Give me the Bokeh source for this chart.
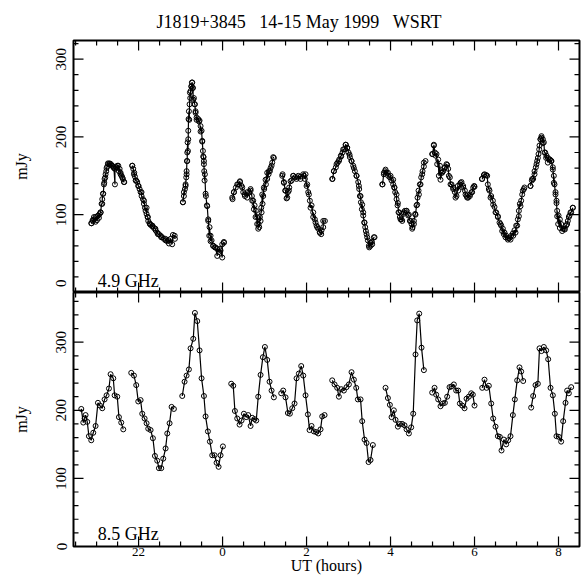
import math
from bokeh.plotting import figure
from bokeh.models import Range1d, LinearAxis, FixedTicker, Label, Title
from bokeh.layouts import column
from bokeh.embed import file_html
from bokeh.resources import INLINE

# ---------------- data ----------------
NB = "\u00a0"
title_text = "J1819+3845" + NB * 3 + "14-15" + NB + "May" + NB + "1999" + NB * 3 + "WSRT"
x_tick_values = [-2, 0, 2, 4, 6, 8]          # hours relative to 0h UT on 15 May
x_tick_labels = ["22", "0", "2", "4", "6", "8"]
y_tick_values = [0, 100, 200, 300]
panel_labels = ["4.9 GHz", "8.5 GHz"]

# 4.9 GHz : UT (hours rel. 0h) and flux (mJy), one list per scan block (first reading)
top_t = [
    [-3.127, -3.095, -3.063, -3.024, -2.984, -2.944, -2.905, -2.865, -2.841, -2.817, -2.794, -2.762,
     -2.730, -2.683, -2.635, -2.587, -2.563, -2.540, -2.508, -2.468, -2.429, -2.389, -2.349],
    [-2.15, -2.11, -2.07, -2.00, -1.93, -1.87, -1.81, -1.78, -1.73, -1.67, -1.60, -1.54, -1.46,
     -1.36, -1.28, -1.20, -1.14],
    [-0.944, -0.921, -0.881, -0.857, -0.841, -0.825, -0.817, -0.794, -0.778, -0.746, -0.730, -0.714,
     -0.698, -0.667, -0.643, -0.619, -0.563, -0.524, -0.484, -0.460, -0.444, -0.421, -0.397, -0.365,
     -0.341, -0.317, -0.286, -0.222, -0.167, -0.127, -0.063, -0.008, 0.032],
    [0.230, 0.270, 0.349, 0.413, 0.468, 0.524, 0.587, 0.667, 0.706, 0.746, 0.786, 0.825, 0.849,
     0.889, 0.921, 0.944, 0.984, 1.024, 1.063, 1.103, 1.143, 1.183, 1.222],
    [1.421, 1.460, 1.500, 1.540, 1.579, 1.619, 1.683, 1.778, 1.857, 1.937, 1.976, 2.016, 2.056,
     2.095, 2.159, 2.214, 2.254, 2.317, 2.349, 2.397, 2.437],
    [2.611, 2.651, 2.714, 2.770, 2.825, 2.873, 2.929, 2.968, 3.024, 3.071, 3.127, 3.190, 3.246,
     3.286, 3.325, 3.349, 3.381, 3.413, 3.444, 3.484, 3.524, 3.563, 3.619],
    [3.802, 3.841, 3.881, 3.937, 4.000, 4.063, 4.095, 4.143, 4.175, 4.206, 4.238, 4.278, 4.317,
     4.381, 4.437, 4.476, 4.516, 4.556, 4.595, 4.635, 4.675, 4.714, 4.754, 4.794, 4.833],
    [4.992, 5.032, 5.071, 5.111, 5.151, 5.190, 5.230, 5.286, 5.349, 5.389, 5.429, 5.492, 5.548,
     5.603, 5.667, 5.730, 5.786, 5.825, 5.889, 5.944, 6.000],
    [6.183, 6.238, 6.302, 6.341, 6.381, 6.444, 6.500, 6.556, 6.619, 6.659, 6.698, 6.738, 6.794,
     6.857, 6.921, 6.976, 7.016, 7.056, 7.095, 7.135, 7.175],
    [7.333, 7.373, 7.429, 7.476, 7.508, 7.540, 7.571, 7.595, 7.627, 7.667, 7.706, 7.746, 7.794,
     7.833, 7.865, 7.889, 7.929, 7.952, 7.968, 7.992, 8.032, 8.087, 8.151, 8.206, 8.246, 8.286, 8.341],
]
top_v = [
    [89, 93, 97, 91, 98, 96, 103, 114, 127, 141, 148, 160, 166, 165, 163, 160, 139, 161, 163, 156,
     152, 148, 142],
    [163, 152, 144, 137, 129, 118, 109, 97, 88, 86, 82, 75, 71, 69, 67, 62, 73],
    [116, 129, 137, 152, 169, 182, 197, 222, 257, 265, 270, 263, 248, 242, 231, 222, 220, 207, 194,
     175, 169, 152, 124, 111, 92, 73, 66, 60, 58, 47, 56, 45, 64],
    [122, 129, 139, 143, 135, 126, 129, 133, 118, 107, 97, 88, 82, 97, 109, 126, 135, 145, 154, 156,
     160, 167, 173],
    [150, 141, 131, 122, 131, 143, 150, 148, 146, 150, 152, 139, 126, 109, 97, 90, 84, 77, 75, 84, 92],
    [146, 156, 165, 169, 175, 184, 190, 186, 177, 169, 160, 150, 137, 124, 113, 103, 90, 79, 71, 60,
     64, 62, 71],
    [139, 154, 158, 154, 150, 145, 135, 126, 115, 103, 94, 92, 103, 105, 100, 92, 82, 88, 100, 113,
     126, 139, 152, 162, 169],
    [178, 189, 176, 165, 150, 145, 154, 160, 164, 150, 139, 133, 122, 137, 141, 135, 126, 122, 126,
     129, 136],
    [146, 152, 150, 133, 122, 113, 103, 98, 88, 79, 75, 71, 68, 68, 73, 77, 86, 98, 111, 126, 133],
    [137, 146, 156, 165, 173, 184, 197, 199, 192, 180, 173, 167, 171, 169, 158, 141, 126, 115, 98,
     88, 83, 79, 81, 88, 97, 103, 109],
]

# 4.9 GHz, second (finer) reading of the same scan blocks
top_t2 = [
    [-3.119, -3.087, -3.056, -3.024, -2.992, -2.960, -2.929, -2.905, -2.881, -2.865, -2.849, -2.825,
     -2.810, -2.786, -2.770, -2.746, -2.722, -2.690, -2.659, -2.627, -2.595, -2.563, -2.516, -2.484,
     -2.452, -2.429, -2.405, -2.373, -2.341],
    [-2.151, -2.127, -2.103, -2.087, -2.056, -2.032, -2.008, -1.976, -1.952, -1.929, -1.897, -1.873,
     -1.849, -1.833, -1.810, -1.786, -1.770, -1.738, -1.714, -1.675, -1.635, -1.595, -1.556, -1.516,
     -1.476, -1.437, -1.397, -1.357, -1.317, -1.278, -1.238, -1.183, -1.135],
    [-0.944, -0.921, -0.897, -0.881, -0.865, -0.857, -0.849, -0.841, -0.833, -0.817, -0.810, -0.802,
     -0.786, -0.770, -0.762, -0.738, -0.722, -0.706, -0.683, -0.659, -0.643, -0.619, -0.579, -0.548,
     -0.524, -0.500, -0.484, -0.468, -0.452, -0.444, -0.437, -0.429, -0.405, -0.373, -0.341, -0.310,
     -0.286, -0.262, -0.222, -0.183, -0.127, -0.087, -0.048, -0.008, 0.032],
    [0.238, 0.270, 0.317, 0.373, 0.413, 0.452, 0.492, 0.532, 0.587, 0.635, 0.667, 0.698, 0.730,
     0.762, 0.794, 0.825, 0.857, 0.873, 0.905, 0.929, 0.952, 0.968, 0.992, 1.032, 1.063, 1.095,
     1.127, 1.167, 1.206],
    [1.429, 1.460, 1.492, 1.524, 1.556, 1.587, 1.643, 1.683, 1.722, 1.762, 1.802, 1.857, 1.921,
     1.960, 2.000, 2.040, 2.079, 2.119, 2.159, 2.198, 2.238, 2.278, 2.317, 2.357, 2.397],
    [2.619, 2.651, 2.698, 2.738, 2.778, 2.817, 2.857, 2.897, 2.937, 2.968, 3.000, 3.032, 3.071,
     3.111, 3.151, 3.190, 3.230, 3.254, 3.270, 3.294, 3.317, 3.349, 3.373, 3.397, 3.429, 3.460,
     3.492, 3.524, 3.556, 3.603],
    [3.810, 3.841, 3.873, 3.905, 3.944, 3.984, 4.024, 4.063, 4.087, 4.111, 4.143, 4.167, 4.190,
     4.222, 4.262, 4.302, 4.341, 4.381, 4.421, 4.460, 4.500, 4.524, 4.556, 4.587, 4.619, 4.643,
     4.667, 4.698, 4.730, 4.762, 4.794],
    [5.000, 5.032, 5.056, 5.095, 5.135, 5.175, 5.214, 5.254, 5.294, 5.333, 5.373, 5.413, 5.452,
     5.492, 5.532, 5.571, 5.611, 5.651, 5.690, 5.730, 5.770, 5.810, 5.849, 5.889, 5.929, 5.968, 5.992],
    [6.175, 6.222, 6.278, 6.317, 6.357, 6.397, 6.437, 6.476, 6.516, 6.556, 6.595, 6.635, 6.675,
     6.714, 6.754, 6.794, 6.833, 6.873, 6.913, 6.952, 6.992, 7.032, 7.056, 7.079, 7.111, 7.151, 7.190],
    [7.333, 7.365, 7.397, 7.429, 7.460, 7.492, 7.524, 7.548, 7.571, 7.595, 7.627, 7.651, 7.683,
     7.714, 7.746, 7.786, 7.825, 7.865, 7.889, 7.905, 7.929, 7.952, 7.968, 8.000, 8.032, 8.063,
     8.103, 8.143, 8.183, 8.222, 8.262, 8.302, 8.341],
]
top_v2 = [
    [89, 92, 94, 97, 93, 99, 101, 103, 114, 120, 127, 139, 146, 152, 156, 162, 165, 166, 165, 163,
     161, 159, 161, 163, 159, 154, 150, 146, 142],
    [163, 159, 154, 149, 144, 142, 137, 133, 129, 124, 120, 114, 109, 105, 101, 97, 92, 89, 87, 85,
     83, 80, 77, 75, 73, 71, 69, 67, 66, 63, 69, 74, 69],
    [116, 124, 133, 139, 148, 156, 169, 180, 193, 208, 223, 233, 242, 250, 259, 265, 270, 263, 250,
     242, 233, 225, 223, 221, 214, 208, 195, 182, 174, 165, 156, 144, 127, 112, 94, 84, 73, 67, 60,
     58, 56, 52, 54, 62, 65],
    [120, 129, 135, 139, 142, 137, 129, 124, 122, 129, 131, 124, 118, 112, 105, 97, 88, 84, 92, 103,
     114, 124, 133, 139, 146, 152, 156, 163, 174],
    [152, 142, 131, 121, 129, 135, 144, 150, 148, 146, 150, 149, 152, 146, 137, 129, 118, 112, 103,
     94, 86, 82, 77, 80, 92],
    [146, 156, 161, 167, 171, 176, 180, 184, 190, 186, 180, 174, 169, 163, 156, 150, 142, 133, 124,
     116, 107, 99, 90, 84, 75, 67, 58, 60, 65, 71],
    [139, 152, 156, 154, 150, 148, 144, 139, 135, 129, 120, 112, 103, 97, 94, 101, 105, 105, 99, 92,
     88, 84, 92, 101, 112, 122, 131, 139, 148, 156, 167],
    [178, 190, 180, 178, 171, 163, 154, 156, 161, 165, 159, 148, 139, 135, 129, 124, 131, 139, 142,
     137, 131, 124, 122, 124, 129, 135, 137],
    [146, 151, 151, 139, 131, 124, 118, 110, 103, 97, 90, 86, 82, 77, 73, 70, 70, 73, 76, 80, 86, 94,
     105, 114, 118, 131, 135],
    [137, 144, 146, 152, 161, 169, 178, 189, 197, 201, 197, 193, 180, 176, 173, 171, 169, 161, 150,
     139, 129, 118, 105, 99, 94, 88, 82, 82, 86, 92, 99, 103, 109],
]

# 8.5 GHz
bot_t = [
    [-3.365, -3.317, -3.286, -3.262, -3.222, -3.183, -3.127, -3.079, -3.024, -2.968, -2.921, -2.865,
     -2.810, -2.762, -2.706, -2.667, -2.603, -2.571, -2.508, -2.468, -2.413, -2.365],
    [-2.175, -2.111, -2.056, -2.008, -1.952, -1.913, -1.857, -1.810, -1.770, -1.714, -1.659, -1.611,
     -1.556, -1.516, -1.460, -1.413, -1.357, -1.317, -1.262, -1.214, -1.159],
    [-0.960, -0.905, -0.857, -0.802, -0.762, -0.698, -0.659, -0.603, -0.548, -0.500, -0.444, -0.405,
     -0.349, -0.302, -0.246, -0.190, -0.143, -0.095, -0.048, 0.008],
    [0.206, 0.254, 0.294, 0.349, 0.405, 0.452, 0.508, 0.563, 0.611, 0.667, 0.706, 0.762, 0.802,
     0.849, 0.905, 0.960, 1.008, 1.063, 1.119, 1.167, 1.222],
    [1.397, 1.444, 1.500, 1.556, 1.603, 1.659, 1.714, 1.762, 1.817, 1.873, 1.921, 1.976, 2.032,
     2.071, 2.119, 2.175, 2.230, 2.278, 2.333, 2.373, 2.429],
    [2.611, 2.667, 2.730, 2.770, 2.825, 2.889, 2.952, 3.008, 3.071, 3.127, 3.183, 3.222, 3.286,
     3.325, 3.381, 3.429, 3.476, 3.524, 3.579],
    [3.881, 3.937, 3.984, 4.024, 4.079, 4.119, 4.175, 4.222, 4.278, 4.333, 4.381, 4.437, 4.492,
     4.540, 4.595, 4.635, 4.683, 4.738, 4.794],
    [4.992, 5.048, 5.087, 5.135, 5.190, 5.246, 5.294, 5.349, 5.405, 5.452, 5.508, 5.563, 5.611,
     5.651, 5.706, 5.762, 5.810, 5.865, 5.921, 5.960, 6.000],
    [6.183, 6.238, 6.286, 6.341, 6.397, 6.444, 6.500, 6.556, 6.603, 6.643, 6.698, 6.754, 6.802,
     6.857, 6.913, 6.960, 7.016, 7.071, 7.111, 7.159],
    [7.349, 7.397, 7.452, 7.508, 7.548, 7.595, 7.651, 7.706, 7.754, 7.810, 7.865, 7.913, 7.952,
     8.008, 8.063, 8.111, 8.167, 8.206, 8.246, 8.302],
]
bot_v = [
    [202, 182, 188, 193, 183, 162, 156, 167, 177, 211, 207, 203, 216, 222, 232, 253, 247, 222, 220,
     190, 182, 172],
    [255, 251, 237, 213, 215, 195, 188, 181, 173, 171, 159, 133, 126, 115, 115, 129, 144, 166, 181,
     205, 202],
    [221, 242, 251, 260, 291, 305, 343, 331, 288, 247, 221, 191, 169, 154, 134, 134, 123, 117, 134, 147],
    [239, 236, 199, 188, 179, 185, 195, 190, 193, 177, 189, 187, 185, 220, 252, 278, 293, 274, 242,
     229, 219],
    [225, 229, 219, 196, 195, 203, 210, 247, 254, 265, 251, 222, 194, 171, 177, 169, 168, 166, 172,
     191, 193],
    [244, 238, 233, 220, 231, 229, 234, 238, 256, 245, 233, 216, 216, 184, 157, 152, 124, 127, 149],
    [233, 218, 208, 190, 200, 186, 176, 180, 180, 178, 172, 166, 175, 195, 282, 332, 342, 292, 259],
    [226, 233, 223, 216, 206, 210, 211, 220, 234, 235, 238, 229, 229, 210, 207, 203, 217, 220, 225,
     223, 207],
    [233, 245, 233, 236, 210, 188, 176, 162, 161, 141, 157, 150, 156, 162, 193, 216, 244, 263, 257, 243],
    [204, 221, 237, 239, 291, 287, 293, 288, 275, 233, 222, 195, 162, 161, 154, 184, 211, 229, 225, 234],
]

# ---------------- styling / layout ----------------
FONT = "Liberation Serif"
X_START, X_END = -3.55, 8.5
FRAME_W = 506
x_minor = [-3.5 + 0.5 * i for i in range(24) if (-3.5 + 0.5 * i) not in x_tick_values]
x_overrides = {v: s for v, s in zip(x_tick_values, x_tick_labels)}
MAJ_PX, MIN_PX = 10, 5


def merged(ta, va, tb, vb):
    out_t, out_v = [], []
    for sa, sva, sb, svb in zip(ta, va, tb, vb):
        pairs = sorted(list(zip(sa, sva)) + list(zip(sb, svb)), key=lambda q: q[0])
        out_t.append([q[0] for q in pairs])
        out_v.append([q[1] for q in pairs])
    return out_t, out_v


def frame_tick_lines(ymax, frame_h):
    """Inward tick marks on all four frame edges, as short polylines (from the tick lists)."""
    xpp = (X_END - X_START) / FRAME_W
    ypp = ymax / frame_h
    xs, ys = [], []
    for t in x_tick_values + x_minor:
        L = (MAJ_PX if t in x_tick_values else MIN_PX) * ypp
        xs += [[t, t], [t, t]]
        ys += [[0, L], [ymax - L, ymax]]
    for v in range(20, int(ymax) + 1, 20):
        L = (MAJ_PX if v % 100 == 0 else MIN_PX) * xpp
        xs += [[X_START, X_START + L], [X_END - L, X_END]]
        ys += [[v, v], [v, v]]
    return xs, ys


def plain_axis(ax):
    ax.major_tick_in = 0
    ax.major_tick_out = 0
    ax.minor_tick_in = 0
    ax.minor_tick_out = 0
    ax.axis_line_color = None
    ax.major_tick_line_color = None
    ax.minor_tick_line_color = None
    ax.major_label_text_font = FONT
    ax.major_label_text_color = "black"
    ax.axis_label_text_font = FONT
    ax.axis_label_text_font_style = "normal"
    ax.axis_label_text_color = "black"


def make_panel(t_segs, v_segs, ymax, label_text, label_y, height, frame_h, border_top,
               border_bottom, is_bottom):
    p = figure(width=583, height=height, x_range=Range1d(X_START, X_END),
               y_range=Range1d(0, ymax), output_backend="svg", toolbar_location=None,
               x_axis_type=None, y_axis_type=None,
               min_border_left=73, min_border_right=4,
               min_border_top=border_top, min_border_bottom=border_bottom)
    p.outline_line_color = "black"
    p.outline_line_width = 2
    p.background_fill_color = "white"
    p.border_fill_color = "white"

    if is_bottom:
        left_ticks, left_over = y_tick_values, {}
    else:
        # the zero label of the upper panel sits just above the shared frame edge
        left_ticks, left_over = [12] + y_tick_values[1:], {12: "0"}
    left = LinearAxis(ticker=FixedTicker(ticks=left_ticks, minor_ticks=[]),
                      major_label_overrides=left_over,
                      axis_label="mJy", major_label_orientation="vertical")
    plain_axis(left)
    left.major_label_text_font_size = "15px"
    left.major_label_standoff = 7
    left.axis_label_text_font_size = "16px"
    left.axis_label_standoff = 24
    p.add_layout(left, "left")

    if is_bottom:
        below = LinearAxis(ticker=FixedTicker(ticks=x_tick_values, minor_ticks=[]),
                           major_label_overrides=x_overrides)
        plain_axis(below)
        below.major_label_text_font_size = "13px"
        below.major_label_standoff = 1
        below.axis_label = "UT (hours)"
        below.axis_label_text_font_size = "16px"
        below.axis_label_standoff = -2
        p.add_layout(below, "below")

    # data polylines and the frame tick marks share one line renderer
    tick_xs, tick_ys = frame_tick_lines(ymax, frame_h)
    p.multi_line(xs=list(t_segs) + tick_xs, ys=list(v_segs) + tick_ys,
                 line_color="black", line_width=1.2)
    flat_t = [t for seg in t_segs for t in seg]
    flat_v = [v for seg in v_segs for v in seg]
    p.scatter(flat_t, flat_v, marker="circle", size=5, fill_color=None,
              line_color="black", line_width=1)

    p.add_layout(Label(x=-2.97, y=label_y, text=label_text, text_font=FONT,
                       text_font_size="18px", text_color="black", text_baseline="alphabetic"))
    return p


top_ts, top_vs = merged(top_t, top_v, top_t2, top_v2)
top = make_panel(top_ts, top_vs, 324, panel_labels[0], 15, 292, 253, 39, 0, False)
top.add_layout(Title(text=title_text, align="left", offset=83, text_font=FONT,
                     text_font_size="18px", text_font_style="normal", text_color="black",
                     standoff=18), "above")
bottom = make_panel(bot_t, bot_v, 373, panel_labels[1], 19, 285, 254, 0, 31, True)

layout = column(top, bottom)
open("out.html", "w").write(file_html(layout, INLINE))
